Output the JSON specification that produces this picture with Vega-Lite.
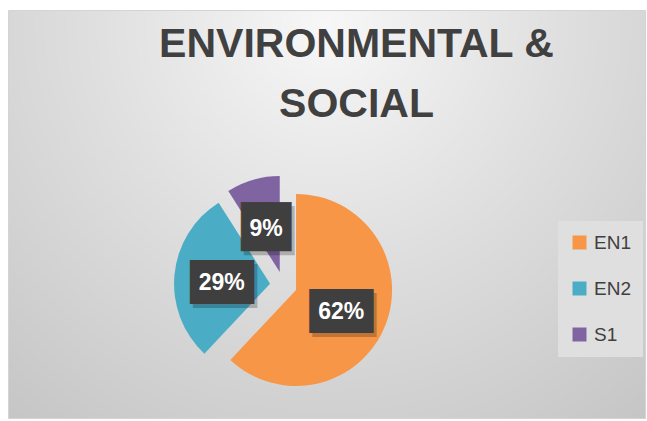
{
  "$schema": "https://vega.github.io/schema/vega-lite/v6.json",
  "autosize": "none",
  "width": 637,
  "height": 408,
  "padding": {"left": 8, "top": 10, "right": 2, "bottom": 3},
  "background": "#ffffff",
  "view": {
    "stroke": "#d4d4d4",
    "fill": {
      "gradient": "radial",
      "x1": 0.5, "y1": 0.2, "r1": 0,
      "x2": 0.5, "y2": 0.2, "r2": 0.85,
      "stops": [
        {"offset": 0, "color": "#f7f7f7"},
        {"offset": 0.45, "color": "#dedede"},
        {"offset": 1, "color": "#c2c2c2"}
      ]
    }
  },
  "title": {
    "text": ["ENVIRONMENTAL &", "SOCIAL"],
    "font": "Liberation Sans",
    "fontSize": 41,
    "fontWeight": "bold",
    "color": "#404040",
    "lineHeight": 60,
    "anchor": "middle",
    "frame": "group",
    "orient": "top",
    "offset": -116,
    "dx": 30
  },
  "data": {
    "values": [
      {"cat": "EN1", "value": 62, "label": "62%", "ord": 1},
      {"cat": "EN2", "value": 29, "label": "29%", "ord": 2},
      {"cat": "S1", "value": 9, "label": "9%", "ord": 3}
    ]
  },
  "encoding": {
    "theta": {"field": "value", "type": "quantitative", "stack": true},
    "order": {"field": "ord", "type": "quantitative"}
  },
  "layer": [
    {
      "mark": {
        "type": "arc",
        "outerRadius": 96,
        "x": {"expr": "width*0.4325 + 13.5*sin(PI*(datum.value_start + datum.value_end)/100)"},
        "y": {"expr": "height*0.674 - 13.5*cos(PI*(datum.value_start + datum.value_end)/100)"}
      },
      "encoding": {
        "color": {
          "field": "cat",
          "type": "nominal",
          "scale": {"domain": ["EN1", "EN2", "S1"], "range": ["#F79646", "#4BACC6", "#8064A2"]},
          "legend": {
            "title": null,
            "orient": "none",
            "legendX": 550,
            "legendY": 211,
            "direction": "vertical",
            "symbolType": "square",
            "symbolSize": 196,
            "symbolStrokeWidth": 0,
            "labelFont": "Liberation Sans",
            "labelFontSize": 19,
            "labelColor": "#404040",
            "labelOffset": 5,
            "rowPadding": 26,
            "padding": 12,
            "fillColor": "#dfdfdf",
            "strokeColor": null
          }
        }
      }
    },
    {
      "mark": {
        "type": "text",
        "font": "DejaVu Sans Mono",
        "color": "#000000",
        "opacity": 0.22,
        "stroke": "#000000",
        "strokeJoin": "miter",
        "align": "center",
        "baseline": "middle",
        "dx": 3,
        "dy": 8,
        "x": {"expr": "width*0.4325"},
        "y": {"expr": "height*0.674"}
      },
      "encoding": {
        "radius": {"value": 62},
        "text": {"condition": {"test": "datum.cat === 'S1'", "value": "██"}, "value": "███"},
        "size": {"condition": {"test": "datum.cat === 'S1'", "value": 41}, "value": 32},
        "strokeWidth": {"condition": {"test": "datum.cat === 'S1'", "value": 0.5}, "value": 6}
      }
    },
    {
      "mark": {
        "type": "text",
        "font": "DejaVu Sans Mono",
        "color": "#3f3f3f",
        "stroke": "#3f3f3f",
        "strokeJoin": "miter",
        "align": "center",
        "baseline": "middle",
        "dy": 4,
        "x": {"expr": "width*0.4325"},
        "y": {"expr": "height*0.674"}
      },
      "encoding": {
        "radius": {"value": 62},
        "text": {"condition": {"test": "datum.cat === 'S1'", "value": "██"}, "value": "███"},
        "size": {"condition": {"test": "datum.cat === 'S1'", "value": 41}, "value": 32},
        "strokeWidth": {"condition": {"test": "datum.cat === 'S1'", "value": 0.5}, "value": 6}
      }
    },
    {
      "mark": {
        "type": "text",
        "font": "Liberation Sans",
        "fontSize": 23,
        "fontWeight": "bold",
        "color": "#ffffff",
        "align": "center",
        "baseline": "middle",
        "dy": 4,
        "x": {"expr": "width*0.4325"},
        "y": {"expr": "height*0.674"}
      },
      "encoding": {
        "radius": {"value": 62},
        "text": {"field": "label"}
      }
    }
  ]
}
